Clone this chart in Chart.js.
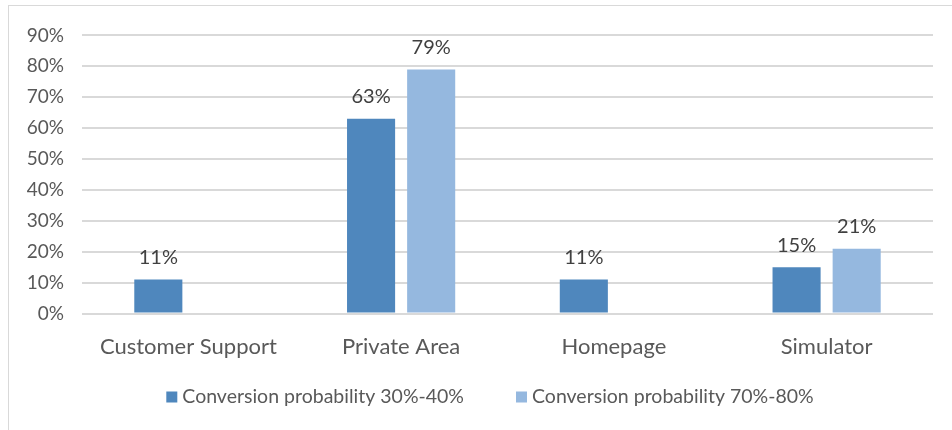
<!DOCTYPE html>
<html>
<head>
<meta charset="utf-8">
<script src="https://cdn.jsdelivr.net/npm/chart.js@4.4.0/dist/chart.umd.min.js"></script>
<style>
  html, body { margin: 0; padding: 0; background: #fff; }
  #frame {
    position: absolute; left: 8px; top: 5px; width: 944px; height: 425px;
    border-top: 1px solid #d9d9d9; border-left: 1px solid #d9d9d9;
  }
  #wrap { position: absolute; left: 0; top: 0; width: 943px; height: 424px; }
</style>
</head>
<body>
<div id="frame"><div id="wrap"><canvas id="conversionChart"></canvas></div></div>
<script>
const categories = ["Customer Support", "Private Area", "Homepage", "Simulator"];
const seriesNames = ["Conversion probability 30%-40%", "Conversion probability 70%-80%"];
const prob30to40 = [11, 63, 11, 15];
const prob70to80 = [null, 79, null, 21];
const seriesColors = ["#4f87bd", "#95b8df"];

const textColor = "#595959";
const fontFamily = "Lato, 'Open Sans', sans-serif";

// writes the percentage above every bar that has a value
const valueLabels = {
    id: "valueLabels",
    afterDatasetsDraw(chart) {
        const ctx = chart.ctx;
        ctx.save();
        ctx.font = "20px " + fontFamily;
        ctx.fillStyle = "#404040";
        ctx.textAlign = "center";
        ctx.textBaseline = "middle";
        chart.data.datasets.forEach((ds, i) => {
            chart.getDatasetMeta(i).data.forEach((bar, j) => {
                const v = ds.data[j];
                if (v === null) return;
                ctx.fillText(v + "%", bar.x, bar.y - 22);
            });
        });
        ctx.restore();
    }
};

// legend row under the axis: small square, short gap, series name
const bottomLegend = {
    id: "bottomLegend",
    afterDraw(chart) {
        const ctx = chart.ctx;
        const box = 11, boxGap = 5, itemGap = 52;
        const cy = chart.height - 33;
        ctx.save();
        ctx.font = "19.5px " + fontFamily;
        ctx.textBaseline = "middle";
        ctx.textAlign = "left";
        const items = chart.data.datasets.map(ds => ({
            text: ds.label,
            color: ds.backgroundColor,
            w: box + boxGap + ctx.measureText(ds.label).width
        }));
        const total = items.reduce((s, it) => s + it.w, 0) + itemGap * (items.length - 1);
        let x = 481 - total / 2;
        items.forEach(it => {
            ctx.fillStyle = it.color;
            ctx.fillRect(x, cy - box / 2, box, box);
            ctx.fillStyle = textColor;
            ctx.fillText(it.text, x + box + boxGap, cy);
            x += it.w + itemGap;
        });
        ctx.restore();
    }
};

const ctx = document.getElementById("conversionChart").getContext("2d");
window.myChart = new Chart(ctx, {
    type: "bar",
    data: {
        labels: categories,
        datasets: [
            { label: seriesNames[0], data: prob30to40, backgroundColor: seriesColors[0] },
            { label: seriesNames[1], data: prob70to80, backgroundColor: seriesColors[1] }
        ]
    },
    options: {
        responsive: true,
        maintainAspectRatio: false,
        animation: false,
        datasets: { bar: { categoryPercentage: 0.565, barPercentage: 0.8 } },
        layout: { padding: { top: 21, right: 19, bottom: 58, left: 0 } },
        scales: {
            x: {
                grid: { display: false },
                border: { display: false },
                ticks: {
                    color: textColor,
                    font: { family: fontFamily, size: 22 },
                    padding: 12,
                    maxRotation: 0,
                    autoSkip: false
                }
            },
            y: {
                min: 0,
                max: 90,
                afterFit(scale) { scale.width = 73; },
                grid: { color: "#d9d9d9", lineWidth: 2, drawTicks: false },
                border: { display: false },
                ticks: {
                    stepSize: 10,
                    padding: 18,
                    color: textColor,
                    font: { family: fontFamily, size: 19 },
                    callback: v => v + "%"
                }
            }
        },
        plugins: {
            legend: { display: false },
            tooltip: { enabled: false }
        }
    },
    plugins: [valueLabels, bottomLegend]
});
</script>
</body>
</html>
